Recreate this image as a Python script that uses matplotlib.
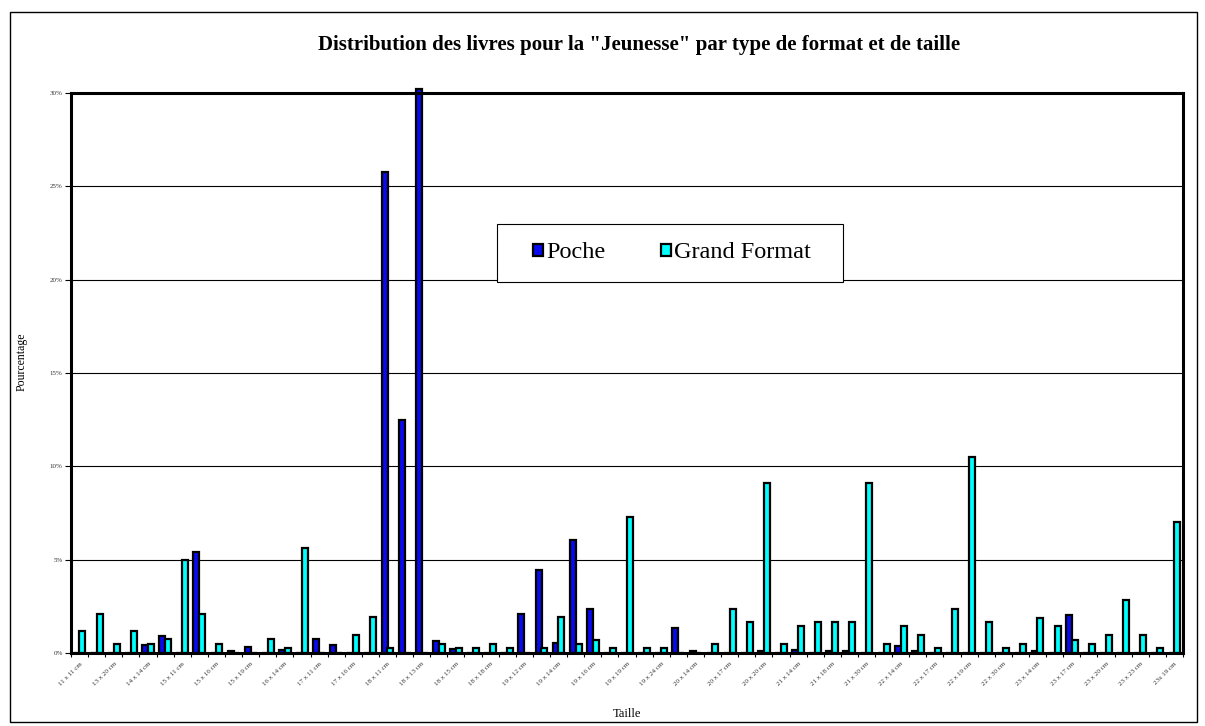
import matplotlib
matplotlib.use("Agg")
import matplotlib.pyplot as plt
import numpy as np
from matplotlib.patches import Rectangle

categories = [
    "11 x 11 cm", "12 x 17 cm", "13 x 20 cm", "14 x 11 cm", "14 x 14 cm", "14 x 20 cm",
    "15 x 11 cm", "15 x 15 cm", "15 x 16 cm", "15 x 18 cm", "15 x 19 cm", "16 x 11 cm",
    "16 x 14 cm", "16 x 16 cm", "17 x 11 cm", "17 x 15 cm", "17 x 16 cm", "17 x 18 cm",
    "18 x 11 cm", "18 x 12 cm", "18 x 13 cm", "18 x 14 cm", "18 x 15 cm", "18 x 16 cm",
    "18 x 18 cm", "18 x 23 cm", "19 x 12 cm", "19 x 13 cm", "19 x 14 cm", "19 x 15 cm",
    "19 x 16 cm", "19 x 17 cm", "19 x 19 cm", "19 x 21 cm", "19 x 24 cm", "20 x 13 cm",
    "20 x 14 cm", "20 x 15 cm", "20 x 17 cm", "20 x 18 cm", "20 x 20 cm", "20 x 27 cm",
    "21 x 14 cm", "21 x 15 cm", "21 x 18 cm", "21 x 27 cm", "21 x 30 cm", "22 x 11 cm",
    "22 x 14 cm", "22 x 16 cm", "22 x 17 cm", "22 x 18 cm", "22 x 19 cm", "22 x 28 cm",
    "22 x 30 cm", "23 x 11 cm", "23 x 14 cm", "23 x 16 cm", "23 x 17 cm", "23 x 18 cm",
    "23 x 20 cm", "23 x 22 cm", "23 x 23 cm", "23 x 30 cm", "23x 19 cm",
]

poche = [
    0, 0, 0, 0, 0.45, 0.9,
    0, 5.4, 0, 0.09, 0.32, 0,
    0.16, 0, 0.77, 0.45, 0, 0,
    25.75, 12.47, 30.2, 0.66, 0.23, 0,
    0, 0, 2.11, 4.46, 0.52, 6.06,
    2.38, 0, 0, 0, 0, 1.33,
    0.09, 0, 0, 0, 0.09, 0,
    0.18, 0, 0.09, 0.09, 0, 0,
    0.39, 0.09, 0, 0, 0, 0,
    0, 0, 0.09, 0, 2.03, 0,
    0, 0, 0, 0, 0,
]

grand_format = [
    1.2, 2.11, 0.48, 1.2, 0.5, 0.73,
    4.96, 2.11, 0.48, 0, 0, 0.73,
    0.27, 5.6, 0, 0, 0.95, 1.92,
    0.27, 0, 0, 0.48, 0.27, 0.27,
    0.48, 0.27, 0, 0.27, 1.92, 0.48,
    0.72, 0.27, 7.29, 0.27, 0.27, 0,
    0, 0.48, 2.38, 1.65, 9.1, 0.48,
    1.43, 1.65, 1.65, 1.65, 9.1, 0.48,
    1.43, 0.95, 0.27, 2.37, 10.5, 1.65,
    0.27, 0.48, 1.9, 1.43, 0.72, 0.48,
    0.95, 2.83, 0.95, 0.27, 7.04,
]

yticks = [0, 5, 10, 15, 20, 25, 30]
ytick_labels = ["0%", "5%", "10%", "15%", "20%", "25%", "30%"]

serif = ["Liberation Serif", "DejaVu Serif"]

W, H = 1205, 726
fig = plt.figure(figsize=(W / 100, H / 100), dpi=100)
fig.patch.set_facecolor("white")

# outer border
fig.add_artist(Rectangle((10 / W, 1 - 722 / H), 1187 / W, 710 / H, transform=fig.transFigure,
                         fill=False, edgecolor="black", linewidth=1.0))

left, right, top, bottom = 71, 1183, 93, 653
ax = fig.add_axes([left / W, 1 - bottom / H, (right - left) / W, (bottom - top) / H])

x = np.arange(len(categories))
bw = 0.35
ax.bar(x - 0.17, poche, width=bw, color="#0a0af0", edgecolor="black", linewidth=1.6,
       label="Poche", zorder=3, clip_on=False)
ax.bar(x + 0.17, grand_format, width=bw, color="#00ffff", edgecolor="black", linewidth=1.6,
       label="Grand Format", zorder=3, clip_on=False)

ax.set_xlim(-0.5, len(categories) - 0.5)
ax.set_ylim(0, 30)

for y in yticks[1:-1]:
    ax.axhline(y, color="black", linewidth=0.8, zorder=1)

for s in ax.spines.values():
    s.set_linewidth(2.2)
    s.set_color("black")
    s.set_zorder(4)

ax.set_yticks(yticks)
ax.set_yticklabels(ytick_labels, fontsize=5, family=serif, color="#333333")
ax.tick_params(axis="y", length=4, width=0.8, pad=2)

ax.set_xticks(x[::2])
ax.set_xticklabels(categories[::2], rotation=45, ha="right", rotation_mode="anchor",
                   fontsize=5, family=serif, color="#333333")
ax.tick_params(axis="x", which="major", length=0, pad=6)
ax.set_xticks(np.arange(-0.5, len(categories), 1.0), minor=True)
ax.tick_params(axis="x", which="minor", length=3, width=0.8)

fig.text(639 / W, 1 - 45 / H, 'Distribution des livres pour la "Jeunesse" par type de format et de taille',
         ha="center", va="center", fontsize=15, fontweight="bold", family=serif)
fig.text(22 / W, 1 - 362 / H, "Pourcentage", rotation=90, ha="center", va="center",
         fontsize=8.5, family=serif)
fig.text(627 / W, 1 - 714 / H, "Taille", ha="center", va="center", fontsize=9, family=serif)

# legend box
fig.add_artist(Rectangle((497 / W, 1 - 282 / H), 346 / W, 58 / H, transform=fig.transFigure,
                         facecolor="white", edgecolor="black", linewidth=0.8, zorder=5))
leg = fig.legend(handles=ax.containers, labels=["Poche", "Grand Format"],
                 loc="center", bbox_to_anchor=(672 / W, 1 - 253 / H),
                 ncol=2, frameon=False, prop={"family": serif, "size": 17.5},
                 handlelength=0.42, handleheight=0.42, handletextpad=0.12,
                 columnspacing=2.3, borderpad=0, borderaxespad=0)
leg.set_zorder(6)

fig.savefig("out.png", dpi=100, facecolor="white")
